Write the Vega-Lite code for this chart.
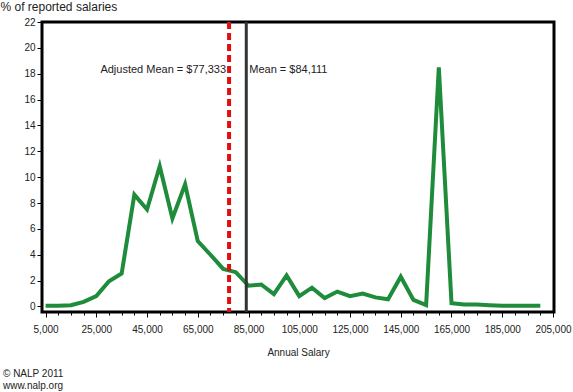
{
  "$schema": "https://vega.github.io/schema/vega-lite/v6.json",
  "width": 512,
  "height": 290,
  "autosize": "none",
  "padding": {"left": 42, "top": 22, "right": 19, "bottom": 80},
  "background": "white",
  "config": {
    "view": {"stroke": "black", "strokeWidth": 3},
    "font": "Liberation Sans",
    "axis": {
      "domain": false,
      "grid": false,
      "tickColor": "black",
      "tickWidth": 1,
      "labelColor": "#222",
      "labelFont": "Liberation Sans",
      "labelFontSize": 10,
      "titleFont": "Liberation Sans",
      "titleFontWeight": "normal",
      "titleColor": "#222"
    }
  },
  "title": {
    "text": ["© NALP 2011", "www.nalp.org"],
    "orient": "bottom",
    "anchor": "start",
    "frame": "group",
    "dx": -39,
    "offset": 12,
    "font": "Liberation Sans",
    "fontSize": 10,
    "fontWeight": "normal",
    "color": "#222",
    "lineHeight": 12
  },
  "layer": [
    {
      "data": {
        "values": [
          {"salary": 5000, "pct": 0.05},
          {"salary": 10000, "pct": 0.05},
          {"salary": 15000, "pct": 0.1},
          {"salary": 20000, "pct": 0.35},
          {"salary": 25000, "pct": 0.8},
          {"salary": 30000, "pct": 1.95},
          {"salary": 35000, "pct": 2.55},
          {"salary": 40000, "pct": 8.65},
          {"salary": 45000, "pct": 7.5},
          {"salary": 50000, "pct": 10.85},
          {"salary": 55000, "pct": 6.8},
          {"salary": 60000, "pct": 9.45},
          {"salary": 65000, "pct": 5.05},
          {"salary": 70000, "pct": 4.0},
          {"salary": 75000, "pct": 2.9},
          {"salary": 80000, "pct": 2.65},
          {"salary": 85000, "pct": 1.6},
          {"salary": 90000, "pct": 1.7},
          {"salary": 95000, "pct": 0.95},
          {"salary": 100000, "pct": 2.4},
          {"salary": 105000, "pct": 0.8},
          {"salary": 110000, "pct": 1.45},
          {"salary": 115000, "pct": 0.65},
          {"salary": 120000, "pct": 1.15},
          {"salary": 125000, "pct": 0.8},
          {"salary": 130000, "pct": 1.0},
          {"salary": 135000, "pct": 0.7},
          {"salary": 140000, "pct": 0.55},
          {"salary": 145000, "pct": 2.3},
          {"salary": 150000, "pct": 0.5},
          {"salary": 155000, "pct": 0.1},
          {"salary": 160000, "pct": 18.5},
          {"salary": 165000, "pct": 0.25},
          {"salary": 170000, "pct": 0.15},
          {"salary": 175000, "pct": 0.15},
          {"salary": 180000, "pct": 0.1},
          {"salary": 185000, "pct": 0.05},
          {"salary": 190000, "pct": 0.05},
          {"salary": 195000, "pct": 0.05},
          {"salary": 200000, "pct": 0.05}
        ]
      },
      "mark": {"type": "line", "color": "#1e8c3a", "strokeWidth": 4, "strokeJoin": "miter"},
      "encoding": {
        "x": {
          "field": "salary",
          "type": "quantitative",
          "scale": {"domain": [3600, 205400], "nice": false, "zero": false},
          "axis": {
            "title": "Annual Salary",
            "titleFontSize": 10,
            "titlePadding": 13,
            "values": [5000, 10000, 15000, 20000, 25000, 30000, 35000, 40000, 45000, 50000, 55000, 60000, 65000, 70000, 75000, 80000, 85000, 90000, 95000, 100000, 105000, 110000, 115000, 120000, 125000, 130000, 135000, 140000, 145000, 150000, 155000, 160000, 165000, 170000, 175000, 180000, 185000, 190000, 195000, 200000, 205000],
            "tickCount": 50,
            "labelExpr": "(datum.value - 5000) % 20000 === 0 ? format(datum.value, ',') : ''",
            "labelOverlap": false,
            "labelPadding": 7,
            "tickSize": {"condition": {"test": "(datum.value - 5000) % 20000 === 0", "value": 5}, "value": 3}
          }
        },
        "y": {
          "field": "pct",
          "type": "quantitative",
          "scale": {"domain": [-0.43, 22], "nice": false, "zero": false},
          "axis": {
            "title": "% of reported salaries",
            "titleAngle": 0,
            "titleAlign": "left",
            "titleBaseline": "middle",
            "titleX": -42,
            "titleY": -16,
            "titleFontSize": 12,
            "values": [0, 2, 4, 6, 8, 10, 12, 14, 16, 18, 20, 22],
            "tickCount": 24,
            "labelOverlap": false,
            "tickSize": 5,
            "labelPadding": 2
          }
        }
      }
    },
    {
      "data": {"values": [{"salary": 77333}]},
      "mark": {"type": "rule", "color": "#e01010", "strokeWidth": 4, "strokeDash": [7, 4]},
      "encoding": {"x": {"field": "salary", "type": "quantitative"}}
    },
    {
      "data": {"values": [{"salary": 84111}]},
      "mark": {"type": "rule", "color": "#333333", "strokeWidth": 3},
      "encoding": {"x": {"field": "salary", "type": "quantitative"}}
    },
    {
      "data": {"values": [{"salary": 77333, "pct": 18.3, "label": "Adjusted Mean = $77,333"}]},
      "mark": {"type": "text", "align": "right", "baseline": "middle", "dx": -3, "fontSize": 11, "font": "Liberation Sans", "color": "#222"},
      "encoding": {
        "x": {"field": "salary", "type": "quantitative"},
        "y": {"field": "pct", "type": "quantitative"},
        "text": {"field": "label"}
      }
    },
    {
      "data": {"values": [{"salary": 84111, "pct": 18.3, "label": "Mean = $84,111"}]},
      "mark": {"type": "text", "align": "left", "baseline": "middle", "dx": 3, "fontSize": 11, "font": "Liberation Sans", "color": "#222"},
      "encoding": {
        "x": {"field": "salary", "type": "quantitative"},
        "y": {"field": "pct", "type": "quantitative"},
        "text": {"field": "label"}
      }
    }
  ]
}
